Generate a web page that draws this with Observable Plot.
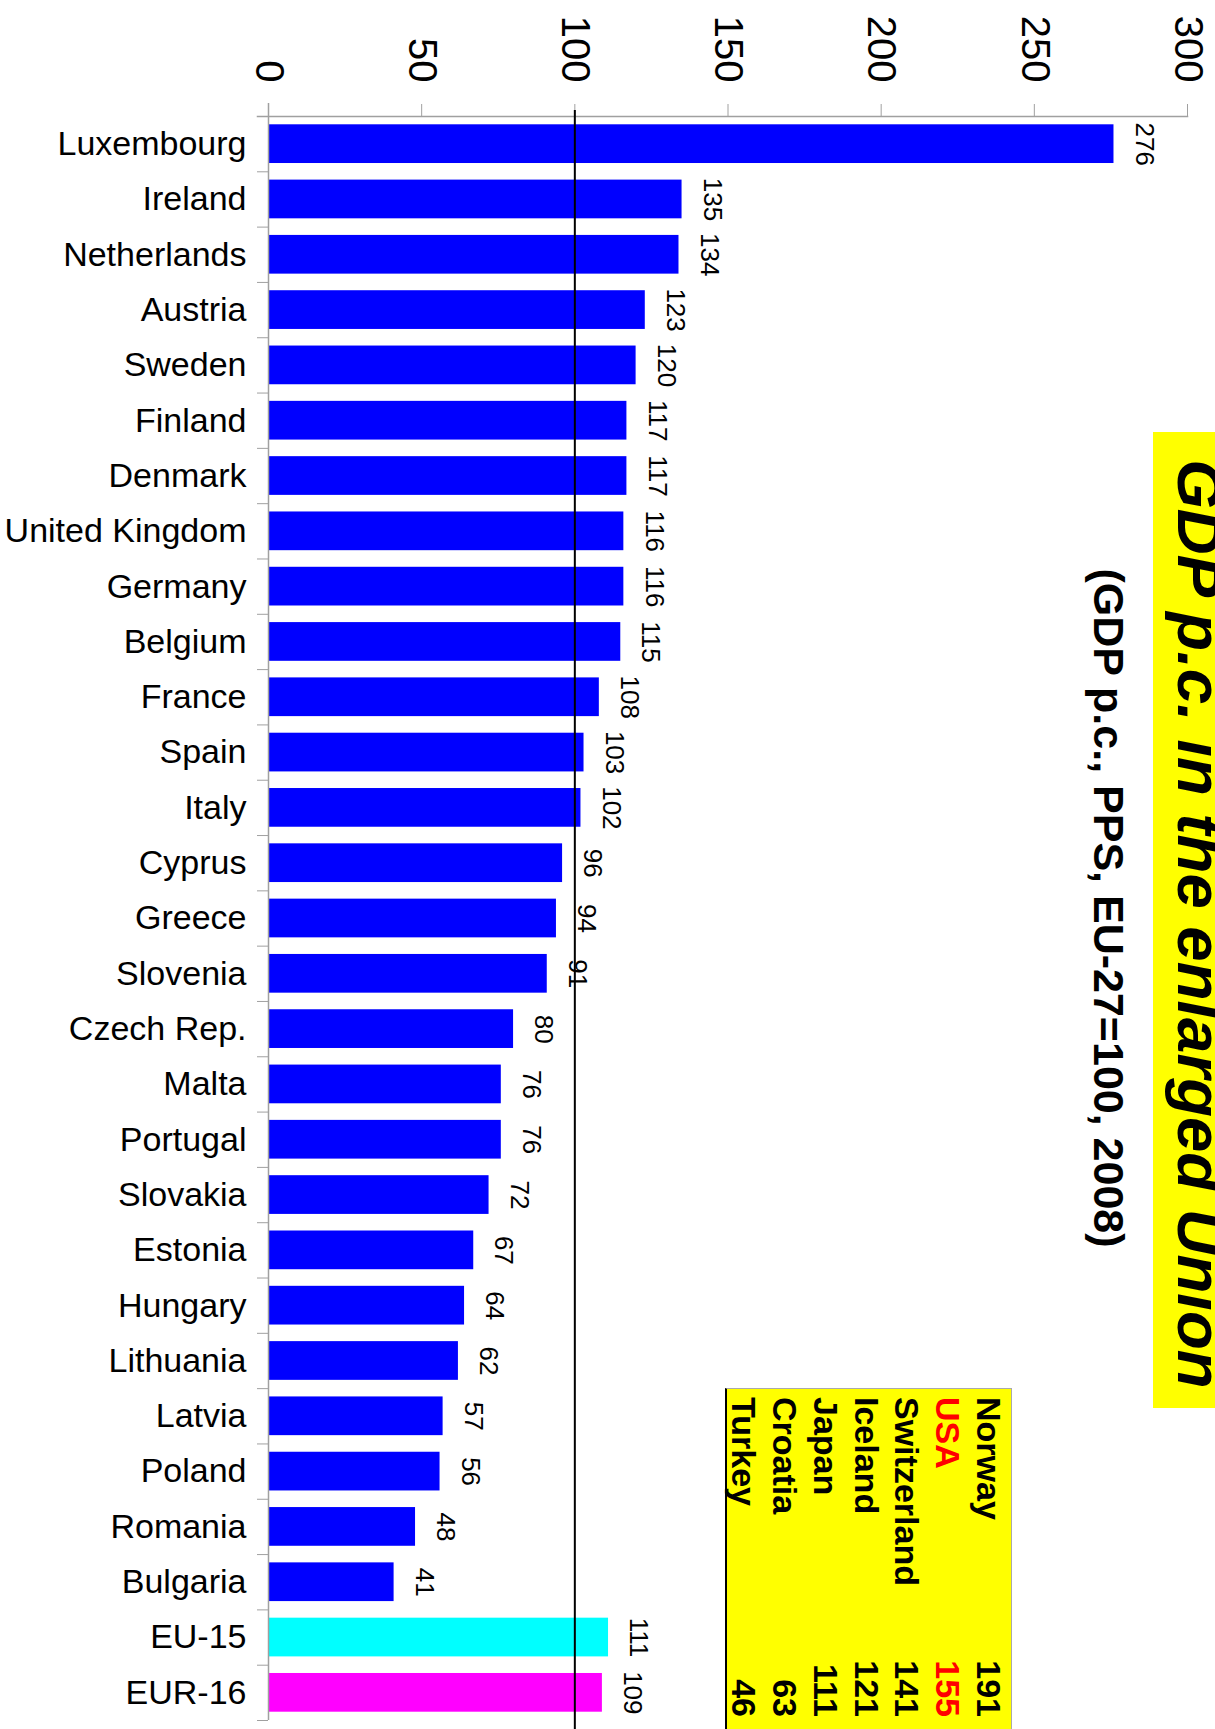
<!DOCTYPE html>
<html>
<head>
<meta charset="utf-8">
<script src="https://cdn.jsdelivr.net/npm/d3@7"></script>
<script src="https://cdn.jsdelivr.net/npm/@observablehq/plot@0.6"></script>
<style>
html, body { margin: 0; padding: 0; background: #fff; overflow: hidden; }
#wrap { position: relative; width: 1215px; height: 1729px; overflow: hidden; font-family: "Liberation Sans", Arial, sans-serif; }
#chart { position: absolute; left: 0; top: 0; }
.rot { position: absolute; transform-origin: 0 0; transform: rotate(90deg); white-space: nowrap; }
#titlebox { left: 1215px; top: 432px; width: 976px; height: 62px; background: #ffff00; overflow: hidden; }
#titlebox .t { position: relative; top: -17px; font: italic bold 63.5px/64px "Liberation Sans", Arial, sans-serif; text-align: center; padding-left: 8px; color: #000; }
#subtitle { left: 1130px; top: 408px; width: 1000px; font: bold 43px/43px "Liberation Sans", Arial, sans-serif; text-align: center; color: #000; }
#legend { left: 1012px; top: 1388px; width: 360px; height: 287px; background: #ffff00; box-sizing: border-box;
  border-left: 1px solid #aaa; border-top: 1px solid #aaa; border-bottom: 2px solid #000;
  padding: 2px 31px 0 8px; font: bold 34px/40.8px "Liberation Sans", Arial, sans-serif; color: #000; }
.row { display: flex; justify-content: space-between; }
</style>
</head>
<body>
<div id="wrap">
  <div id="chart"></div>
  <div id="titlebox" class="rot"><div class="t" id="title"></div></div>
  <div id="subtitle" class="rot"></div>
  <div id="legend" class="rot"></div>
</div>
<script>
// ---- data ----
const titleText = "GDP p.c. in the enlarged Union";
const subtitleText = "(GDP p.c., PPS, EU-27=100, 2008)";

const countries = ["Luxembourg", "Ireland", "Netherlands", "Austria", "Sweden", "Finland", "Denmark",
  "United Kingdom", "Germany", "Belgium", "France", "Spain", "Italy", "Cyprus", "Greece", "Slovenia",
  "Czech Rep.", "Malta", "Portugal", "Slovakia", "Estonia", "Hungary", "Lithuania", "Latvia", "Poland",
  "Romania", "Bulgaria", "EU-15", "EUR-16"];
const values = [276, 135, 134, 123, 120, 117, 117, 116, 116, 115, 108, 103, 102, 96, 94, 91,
  80, 76, 76, 72, 67, 64, 62, 57, 56, 48, 41, 111, 109];
const groups = [...Array(27).fill("member"), "EU-15", "EUR-16"];
const groupNames = ["member", "EU-15", "EUR-16"];

const xTicks = [0, 50, 100, 150, 200, 250, 300];
const referenceValue = [100];

const otherCountries = ["Norway", "USA", "Switzerland", "Iceland", "Japan", "Croatia", "Turkey"];
const otherValues = [191, 155, 141, 121, 111, 63, 46];
const highlighted = "USA";

// ---- chart ----
const data = countries.map((c, i) => ({country: c, value: values[i], group: groups[i]}));

const W = 1215, H = 1729, mTop = 116, mBottom = 9, mLeft = 268, mRight = 28;
const step = (H - mTop - mBottom) / countries.length;
const axisGray = "#a0a0a0";

const chart = Plot.plot({
  width: W,
  height: H,
  marginTop: mTop,
  marginBottom: mBottom,
  marginLeft: mLeft,
  marginRight: mRight,
  style: {fontFamily: "'Liberation Sans', Arial, sans-serif", background: "transparent", color: "#000"},
  x: {domain: [0, 300], axis: null},
  y: {domain: countries, paddingInner: 0.3, paddingOuter: 0.15, round: false, axis: null},
  color: {domain: groupNames, range: ["#0000ff", "#00ffff", "#ff00ff"]},
  marks: [
    Plot.barX(data, {x: "value", y: "country", fill: "group"}),
    Plot.ruleX([0], {stroke: axisGray, strokeWidth: 1.5, insetTop: -13}),
    Plot.frame({anchor: "top", stroke: axisGray, strokeWidth: 1.5, insetLeft: -11}),
    Plot.axisX({anchor: "top", ticks: xTicks, tickSize: 13, tickPadding: 21, tickRotate: 90,
      fontSize: 40, stroke: axisGray, fill: "#000", label: null}),
    Plot.axisY({anchor: "left", tickSize: 0, tickPadding: 22, fontSize: 34, fill: "#000", label: null}),
    Plot.axisY({anchor: "left", tickSize: 11, tickFormat: () => "", dy: -step / 2, stroke: axisGray, label: null}),
    Plot.axisY({anchor: "left", ticks: [countries[countries.length - 1]], tickSize: 11, tickFormat: () => "",
      dy: step / 2, stroke: axisGray, label: null}),
    Plot.ruleX(referenceValue, {stroke: "#000", strokeWidth: 2, insetTop: -6, insetBottom: -mBottom}),
    Plot.text(data, {x: "value", y: "country", text: d => String(d.value), rotate: 90, dx: 30,
      fontSize: 26, fill: "#000"})
  ]
});
document.getElementById("chart").appendChild(chart);

// ---- titles ----
document.getElementById("title").textContent = titleText;
document.getElementById("subtitle").textContent = subtitleText;

// ---- legend table ----
const leg = document.getElementById("legend");
otherCountries.forEach((c, i) => {
  const row = document.createElement("div");
  row.className = "row";
  if (c === highlighted) row.style.color = "#ff0000";
  const a = document.createElement("span");
  a.textContent = c;
  const b = document.createElement("span");
  b.textContent = otherValues[i];
  row.appendChild(a);
  row.appendChild(b);
  leg.appendChild(row);
});
</script>
</body>
</html>
